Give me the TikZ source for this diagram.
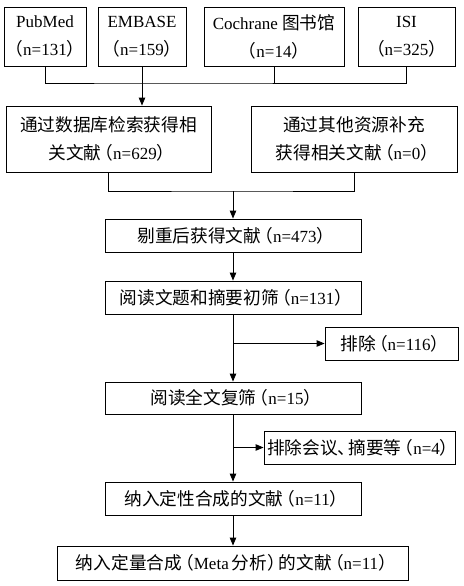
\documentclass[tikz,border=0pt]{standalone}
\usepackage{fontspec}
\setmainfont{Liberation Serif}
\newfontfamily\cjk[Scale=1.04]{Noto Sans CJK SC}
\usetikzlibrary{arrows.meta}
\newcommand{\zh}[1]{{\cjk #1}}
\newcommand{\lp}{{\cjk\kern-0.33em（}}
\newcommand{\rp}{{\cjk）\kern-0.33em}}
\newcommand{\dn}{{\cjk、\kern-0.4em}}

\begin{document}
\begin{tikzpicture}[x=1pt, y=-1pt,
    box/.style={draw, line width=0.9pt, inner sep=0pt, align=center,
      font=\fontsize{17}{28}\selectfont},
    arr/.style={-{Triangle[length=8pt, width=6.5pt]}, line width=0.9pt},
    ln/.style={line width=0.9pt}]
  \useasboundingbox (0,0) rectangle (463,586);
  \def\rh{59pt}
  \def\mw{256pt}

  % Databases
  \node[box, minimum width=82pt,  minimum height=\rh] (pub) at (45,36.5)    {PubMed\\\lp n=131\rp};
  \node[box, minimum width=88pt,  minimum height=\rh] (emb) at (142,36.5)   {EMBASE\\\lp n=159\rp};
  \node[box, minimum width=140pt, minimum height=\rh] (coc) at (274,36.5)   {Cochrane \zh{图书馆}\\\lp n=14\rp};
  \node[box, minimum width=97pt,  minimum height=\rh] (isi) at (406.5,36.5) {ISI\\\lp n=325\rp};

  % Sources
  \node[box, minimum width=205pt, minimum height=66pt] (db)  at (108.5,139) {\zh{通过数据库检索获得相}\\\zh{关文献}\lp n=629\rp};
  \node[box, minimum width=206pt, minimum height=66pt] (oth) at (354,139)   {\zh{通过其他资源补充}\\\zh{获得相关文献}\lp n=0\rp};

  % Screening steps
  \node[box, minimum width=\mw, minimum height=33pt] (dedup)  at (233,235.5) {\zh{剔重后获得文献}\lp n=473\rp};
  \node[box, minimum width=\mw, minimum height=33pt] (screen) at (233,297.5) {\zh{阅读文题和摘要初筛}\lp n=131\rp};
  \node[box, minimum width=\mw, minimum height=32pt] (full)   at (233,398)   {\zh{阅读全文复筛}\lp n=15\rp};
  \node[box, minimum width=\mw, minimum height=33pt] (qual)   at (233,498.5) {\zh{纳入定性合成的文献}\lp n=11\rp};
  \node[box, minimum width=351pt, minimum height=34pt] (meta) at (233,563)   {\zh{纳入定量合成}\lp Meta\,\zh{分析}\rp\zh{的文献}\lp n=11\rp};

  % Exclusions
  \node[box, minimum width=133pt, minimum height=33pt] (ex1) at (391.5,343.5) {\zh{排除}\lp n=116\rp};
  \node[box, minimum width=191pt, minimum height=33pt] (ex2) at (359.5,447.5) {\zh{排除会议}\dn\zh{摘要等}\lp n=4\rp};

  % Connectors
  \coordinate (j1) at (142,83);
  \coordinate (j2) at (233,191);
  \draw[ln] (pub.south) |- (j1) -| (isi.south);
  \draw[ln] (coc.south) -- (coc.south |- j1);
  \draw[arr] (emb.south) -- (emb.south |- db.north);
  \draw[ln] (db.south) |- (j2) -| (oth.south);
  \draw[arr] (j2) -- (dedup.north);
  \draw[arr] (dedup.south) -- (screen.north);
  \draw[arr] (screen.south) -- (full.north);
  \coordinate (b1) at (screen.south |- ex1.west);
  \draw[arr] (b1) -- (ex1.west);
  \draw[arr] (full.south) -- (qual.north);
  \coordinate (b2) at (full.south |- ex2.west);
  \draw[arr] (b2) -- (ex2.west);
  \draw[arr] (qual.south) -- (meta.north);
\end{tikzpicture}
\end{document}
